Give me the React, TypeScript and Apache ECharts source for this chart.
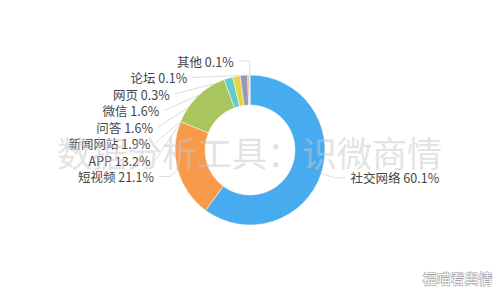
import React, { useEffect, useRef } from "react";
import * as echarts from "echarts";

const categories = ["社交网络", "短视频", "APP", "新闻网站", "问答", "微信", "网页", "论坛", "其他"];
const values = [60.1, 21.1, 13.2, 1.9, 1.6, 1.6, 0.3, 0.1, 0.1];
const colors = ["#47abf0", "#f79a4b", "#a8c65b", "#62cccb", "#e6d33d", "#959bb6", "#f08a5d", "#e86a6a", "#d9a0c0"];

export default function App() {
  const ref = useRef<HTMLDivElement>(null);
  useEffect(() => {
    document.body.style.margin = "0";
    const chart = echarts.init(ref.current!, null, { renderer: "svg" });
    chart.setOption({
      animation: false,
      color: colors,
      series: [
        {
          type: "pie",
          center: ["50%", "50%"],
          radius: ["30%", "50%"],
          startAngle: 90,
          data: categories.map((c, i) => ({ name: c, value: values[i] })),
          label: {
            formatter: (p: any) => `${p.name} ${values[p.dataIndex].toFixed(1)}%`,
            color: "#444",
            fontSize: 12.5,
            lineHeight: 14.5,
            fontFamily: "Noto Sans CJK SC",
          },
          labelLine: { lineStyle: { color: "#ddd" }, length: 14, length2: 11 },
          itemStyle: { borderColor: "#fff", borderWidth: 0.5 },
        },
      ],
      graphic: [
        {
          type: "text",
          left: 57,
          top: 134,
          z: 100,
          style: {
            text: "数据分析工具：识微商情",
            fontSize: 35,
            fontFamily: "Noto Sans CJK SC",
            fill: "rgba(200,200,200,0.5)",
          },
        },
        {
          type: "text",
          right: 7,
          bottom: 15,
          z: 100,
          style: {
            text: "福喵看舆情",
            fontSize: 14,
            fontFamily: "Noto Sans CJK SC",
            fill: "#fff",
            stroke: "#999",
            lineWidth: 1,
          },
        },
      ],
    });
    return () => chart.dispose();
  }, []);
  return <div ref={ref} style={{ width: 500, height: 300 }} />;
}
